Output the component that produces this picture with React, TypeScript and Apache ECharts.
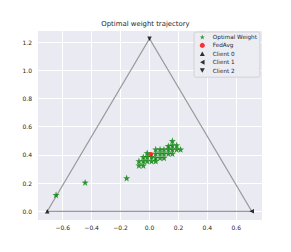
import React, { useEffect, useRef } from "react";
import * as echarts from "echarts";

const title = "Optimal weight trajectory";
const S = 1 / Math.sqrt(2);
const H = Math.sqrt(1.5);
const triangleVertices: number[][] = [
  [-S, 0],
  [S, 0],
  [0, H],
  [-S, 0],
];
const client0: number[][] = [[-S, 0]];
const client1: number[][] = [[S, 0]];
const client2: number[][] = [[0, H]];
const fedAvg: number[][] = [[0.01, 0.405]];
const optimalWeights: number[][] = [
  [-0.646, 0.117], [-0.445, 0.205], [-0.158, 0.236],
  [-0.073, 0.357], [-0.073, 0.326],
  [-0.043, 0.386], [-0.043, 0.357], [-0.043, 0.326],
  [-0.016, 0.414], [-0.016, 0.386], [-0.016, 0.357],
  [0.014, 0.386], [0.014, 0.357],
  [0.043, 0.44], [0.043, 0.41], [0.043, 0.38], [0.043, 0.357],
  [0.073, 0.44], [0.073, 0.41], [0.073, 0.38],
  [0.10, 0.44], [0.10, 0.41], [0.10, 0.38],
  [0.13, 0.464], [0.13, 0.44], [0.13, 0.41],
  [0.158, 0.50], [0.158, 0.469], [0.158, 0.44], [0.158, 0.41],
  [0.188, 0.469], [0.188, 0.44],
  [0.215, 0.44],
];
const legendNames = ["Optimal Weight", "FedAvg", "Client 0", "Client 1", "Client 2"];

const STAR = "path://M0,-10L2.35,-3.24L9.51,-3.09L3.8,1.24L5.88,8.09L0,4L-5.88,8.09L-3.8,1.24L-9.51,-3.09L-2.35,-3.24Z";
const TRI_UP = "path://M0,-10L10,8L-10,8Z";
const TRI_LEFT = "path://M-10,0L8,-10L8,10Z";
const TRI_DOWN = "path://M0,10L10,-8L-10,-8Z";

const fmt = (v: number) => {
  const r = Math.round(v * 5) / 5;
  if (Math.abs(v - r) > 1e-6) return "";
  const s = Math.abs(r).toFixed(1);
  return r < -1e-9 ? "\u2212" + s : s;
};

export default function App() {
  const ref = useRef<HTMLDivElement>(null);
  useEffect(() => {
    document.body.style.margin = "0";
    const chart = echarts.init(ref.current!, null, { renderer: "svg" });
    const xPad = 2 * S * 0.05;
    const yPad = H * 0.05;
    const font = "DejaVu Sans";
    chart.setOption({
      animation: false,
      title: {
        text: title,
        left: "center",
        top: 20,
        textStyle: { fontFamily: font, fontSize: 6.9, fontWeight: "normal", color: "#262626" },
        padding: 0,
      },
      grid: {
        left: 37,
        right: 29,
        top: 30,
        bottom: 32,
        show: true,
        backgroundColor: "#EAEAF2",
        borderWidth: 0,
      },
      xAxis: {
        type: "value",
        min: -S - xPad,
        max: S + xPad,
        splitNumber: 7,
        axisLine: { show: false },
        axisTick: { show: false },
        axisLabel: { formatter: fmt, fontFamily: font, fontSize: 6, color: "#262626", margin: 4, showMinLabel: false, showMaxLabel: false },
        splitLine: { lineStyle: { color: "#ffffff", width: 1 } },
      },
      yAxis: {
        type: "value",
        min: -yPad,
        max: H + yPad,
        splitNumber: 7,
        axisLine: { show: false },
        axisTick: { show: false },
        axisLabel: { formatter: fmt, fontFamily: font, fontSize: 6, color: "#262626", margin: 5, showMinLabel: false, showMaxLabel: false },
        splitLine: { lineStyle: { color: "#ffffff", width: 1 } },
      },
      legend: {
        data: legendNames,
        orient: "vertical",
        left: 194,
        top: 32,
        padding: [2, 3, 3.6, 5.8],
        itemWidth: 5,
        itemHeight: 5,
        itemGap: 2.4,
        backgroundColor: "#ECECF3",
        borderColor: "#cccccc",
        borderWidth: 0.8,
        borderRadius: 2,
        inactiveColor: "#262626",
        textStyle: { fontFamily: font, fontSize: 5.7, lineHeight: 6, color: "#262626", padding: [0, 0, 0, 3] },
      },
      series: [
        {
          type: "line",
          data: triangleVertices,
          symbol: "none",
          lineStyle: { color: "#9a9a9a", width: 1.1 },
          z: 1,
        },
        {
          name: "Optimal Weight",
          type: "scatter",
          data: optimalWeights,
          symbol: STAR,
          symbolSize: 7,
          itemStyle: { color: "#008000" },
          z: 2,
        },
        {
          name: "FedAvg",
          type: "scatter",
          data: fedAvg,
          symbol: "circle",
          symbolSize: 4.5,
          itemStyle: { color: "#ff0000" },
          z: 3,
        },
        {
          name: "Client 0",
          type: "scatter",
          data: client0,
          symbol: TRI_UP,
          symbolSize: 4.5,
          itemStyle: { color: "#000000" },
          z: 3,
        },
        {
          name: "Client 1",
          type: "scatter",
          data: client1,
          symbol: TRI_LEFT,
          symbolSize: 4.5,
          itemStyle: { color: "#000000" },
          z: 3,
        },
        {
          name: "Client 2",
          type: "scatter",
          data: client2,
          symbol: TRI_DOWN,
          symbolSize: 4.5,
          itemStyle: { color: "#000000" },
          z: 3,
        },
      ],
    });
    return () => chart.dispose();
  }, []);
  return <div ref={ref} style={{ width: 291, height: 252 }} />;
}
